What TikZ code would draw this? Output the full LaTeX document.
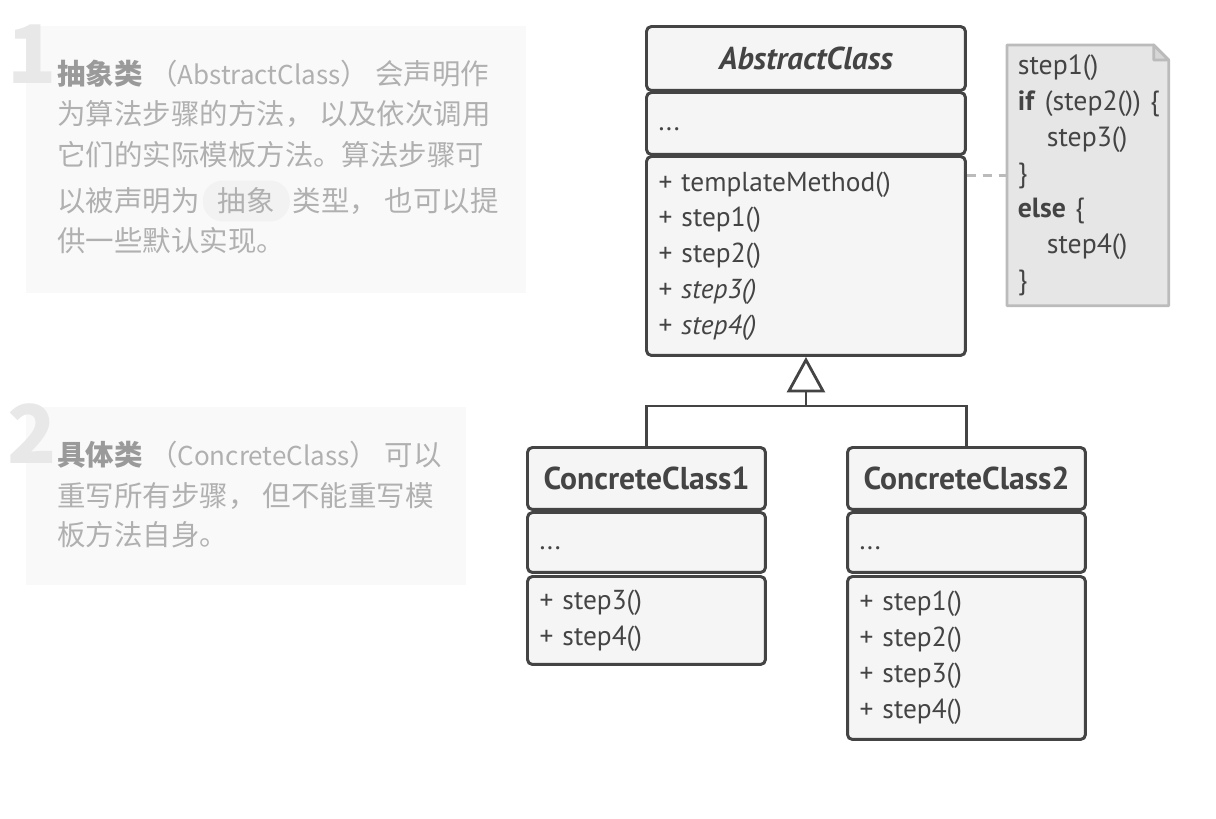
\documentclass[tikz,border=0pt]{standalone}
\usepackage{fontspec}
\setmainfont{PT Sans}
\newfontfamily\cjk{Noto Sans CJK SC}
\usepackage{tikz}
\usetikzlibrary{positioning,backgrounds}

\definecolor{umlline}{HTML}{444444}
\definecolor{umlfill}{HTML}{F5F5F5}
\definecolor{notefill}{HTML}{E6E6E6}
\definecolor{noteline}{HTML}{BBBBBB}
\definecolor{tipbg}{HTML}{F9F9F9}
\definecolor{tiptext}{HTML}{B0B0B0}
\definecolor{tipbold}{HTML}{9A9A9A}
\definecolor{tipnum}{HTML}{E8E8E8}
\definecolor{pillbg}{HTML}{F2F2F2}

\tikzset{
  compart/.style={draw=umlline, line width=1.7pt, fill=umlfill, rounded corners=2.8pt,
    anchor=north west, inner xsep=0.24cm, inner ysep=0pt, align=left, text=umlline,
    font=\fontsize{15.6}{20.4}\selectfont},
  classname/.style={compart, align=center, font=\bfseries\fontsize{18}{20}\selectfont},
  umlconn/.style={draw=umlline, line width=1.6pt},
  notelink/.style={draw=noteline, line width=1.6pt, dash pattern=on 5pt off 4pt},
  tipline/.style={anchor=west, inner sep=0pt, text=tiptext, font=\cjk\fontsize{16.2}{20}\selectfont},
  tipnumber/.style={anchor=base west, inner sep=0pt, text=tipnum, font=\cjk\bfseries\fontsize{46}{46}\selectfont}
}
\newcommand{\latinword}[1]{{\fontsize{14.8}{20}\selectfont #1}}

\begin{document}
\begin{tikzpicture}[x=0.02cm, y=-0.02cm]
        \useasboundingbox (0,0) rectangle (1216,818);

        % hint boxes
        \fill[tipbg] (26,26) rectangle (526,293);
        \fill[tipbg] (26,407) rectangle (466,585);
        \node[tipnumber] (num1) at (7,83) {1};
        \node[tipnumber] (num2) at (7,463) {2};

        \node[tipline] (t1a) at (57,74) {{\color{tipbold}\bfseries 抽象类} （\latinword{AbstractClass}） 会声明作};
        \node[tipline] (t1b) at (57,114) {为算法步骤的方法， 以及依次调用};
        \node[tipline] (t1c) at (57,155) {它们的实际模板方法。算法步骤可};
        \node[tipline] (t1d) at (57,201) {以被声明为};
        \node[tipline, fill=pillbg, rounded corners=0.4cm, inner xsep=0.3cm, minimum height=0.82cm,
              right=0.05cm of t1d] (pill) {抽象};
        \node[tipline, right=0.05cm of pill] (t1e) {类型， 也可以提};
        \node[tipline] (t1f) at (57,241) {供一些默认实现。};

        \node[tipline] (t2a) at (57,455) {{\color{tipbold}\bfseries 具体类} （\latinword{ConcreteClass}） 可以};
        \node[tipline] (t2b) at (57,496) {重写所有步骤， 但不能重写模};
        \node[tipline] (t2c) at (57,535) {板方法自身。};

        % abstract class
        \node[classname, minimum width=6.38cm, minimum height=1.28cm, font=\bfseries\itshape\fontsize{18}{20}\selectfont]
              (ac) at (645,25) {AbstractClass};
        \node[compart, minimum width=6.38cm, minimum height=1.24cm, text width=5.9cm] (acfields) at (645,91) {\strut...};
        \node[compart, minimum width=6.38cm, minimum height=3.98cm, text width=5.9cm] (acmeth) at (645,155)
              {+ templateMethod()\\+ step1()\\+ step2()\\+ \textit{step3()}\\+ \textit{step4()}};

        % note
        \node[anchor=north west, minimum width=3.22cm, minimum height=5.2cm, text width=2.8cm, inner xsep=0.21cm,
              inner ysep=0pt, align=left, text=umlline, font=\fontsize{15.8}{20.4}\selectfont] (note) at (1007,45)
              {step1()\\\mbox{\textbf{if} (step2()) \{}\\\hspace*{0.58cm}step3()\\\}\\\textbf{else} \{\\\hspace*{0.58cm}step4()\\\}};
        \begin{scope}[on background layer]
        \draw[draw=noteline, fill=notefill, line width=1.6pt, line join=round]
              (note.north west) -- ([xshift=-0.3cm]note.north east) -- ([yshift=-0.3cm]note.north east)
              -- (note.south east) -- (note.south west) -- cycle;
        \draw[draw=noteline, fill=noteline!60, line width=1.6pt, line join=round]
              ([xshift=-0.3cm]note.north east) |- ([yshift=-0.3cm]note.north east) -- cycle;
        \end{scope}
        \draw[notelink] (acmeth.east |- note.west) -- (note.west);

        % concrete classes
        \node[classname, minimum width=4.76cm, minimum height=1.24cm] (cc1) at (526,446) {ConcreteClass1};
        \node[compart, minimum width=4.76cm, minimum height=1.2cm, text width=4.28cm] (cc1fields) at (526,511) {\strut...};
        \node[compart, minimum width=4.76cm, minimum height=1.76cm, text width=4.28cm] (cc1meth) at (526,575)
              {+ step3()\\+ step4()};

        \node[classname, minimum width=4.76cm, minimum height=1.24cm] (cc2) at (846,446) {ConcreteClass2};
        \node[compart, minimum width=4.76cm, minimum height=1.2cm, text width=4.28cm] (cc2fields) at (846,511) {\strut...};
        \node[compart, minimum width=4.76cm, minimum height=3.26cm, text width=4.28cm] (cc2meth) at (846,575)
              {+ step1()\\+ step2()\\+ step3()\\+ step4()};

        % inheritance
        \draw[umlconn, fill=white, line join=miter] ([yshift=-0.06cm]acmeth.south) -- ++(-17,31) -- ++(34,0) -- cycle;
        \coordinate (tribase) at ([yshift=-0.68cm]acmeth.south);
        \coordinate (split) at ([yshift=-0.3cm]tribase);
        \draw[umlconn] (tribase) -- (split);
        \draw[umlconn] (cc1.north) |- (split) -| (cc2.north);
\end{tikzpicture}
\end{document}
